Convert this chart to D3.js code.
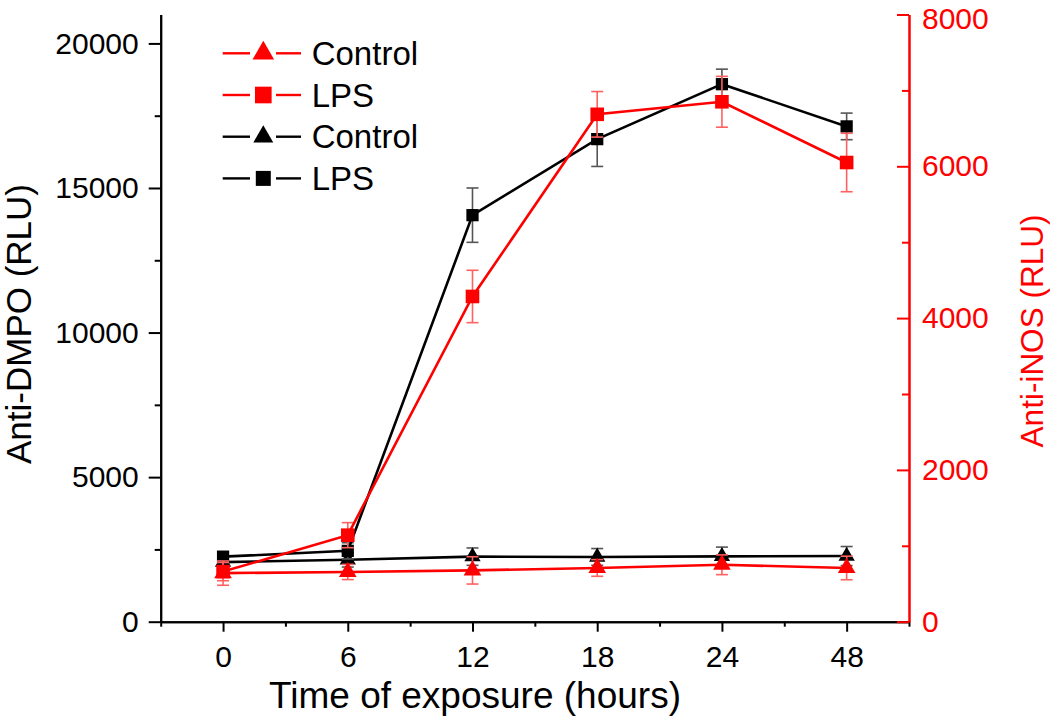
<!DOCTYPE html>
<html>
<head>
<meta charset="utf-8">
<script src="https://cdn.jsdelivr.net/npm/d3@7"></script>
<style>
  body { margin: 0; background: #fff; }
  text { font-family: "Liberation Sans", Arial, sans-serif; }
</style>
</head>
<body>
<div id="chart"></div>
<script>
const hours = ["0", "6", "12", "18", "24", "48"]

// Anti-DMPO (left axis, black)
const dmpoControl = [2060, 2140, 2250, 2240, 2260, 2270]
const dmpoControlErr = [250, 250, 300, 290, 320, 330]
const dmpoLPS = [2250, 2450, 14060, 16690, 18590, 17130]
const dmpoLPSErr = [160, 280, 940, 945, 520, 460]

// Anti-iNOS (right axis, red)
const inosControl = [640, 655, 676, 708, 750, 708]
const inosControlErr = [160, 100, 180, 110, 130, 155]
const inosLPS = [660, 1140, 4285, 6685, 6850, 6050]
const inosLPSErr = [120, 165, 345, 300, 335, 385]

const leftTicks = [0, 5000, 10000, 15000, 20000]
const leftMinor = [2500, 7500, 12500, 17500]
const rightTicks = [0, 2000, 4000, 6000, 8000]
const rightMinor = [1000, 3000, 5000, 7000]

const svgWidth = 1050
const svgHeight = 721
let margin = { top: 14.5, right: 141, bottom: 99.3, left: 160.7 }
let width = svgWidth - margin.left - margin.right
let height = svgHeight - margin.top - margin.bottom

let svg = d3.select("#chart").append("svg")
  .attr("width", svgWidth)
  .attr("height", svgHeight)
let chartGroup = svg.append("g")
  .attr("transform", `translate(${margin.left}, ${margin.top})`)

let x = d3.scaleLinear().domain([-0.5, hours.length - 0.5]).range([0, width])
let yLeft = d3.scaleLinear().domain([0, 21000]).range([height, 0])
let yRight = d3.scaleLinear().domain([0, 8000]).range([height, 0])

function styleAxis(g, color, size) {
  g.select(".domain").attr("stroke", color).attr("stroke-width", 2)
  g.selectAll(".tick line").attr("stroke", color).attr("stroke-width", 2)
  g.selectAll(".tick text").attr("fill", color).attr("font-size", size)
    .attr("font-family", "Liberation Sans, Arial, sans-serif")
}

// x axis
let xMinor = chartGroup.append("g")
  .attr("transform", `translate(0, ${height})`)
  .call(d3.axisBottom(x).tickValues(d3.range(-0.5, hours.length, 1)).tickSize(5).tickSizeOuter(0).tickFormat(""))
styleAxis(xMinor, "#000", 30)
let xAxis = chartGroup.append("g")
  .attr("transform", `translate(0, ${height})`)
  .call(d3.axisBottom(x).tickValues(d3.range(hours.length)).tickSize(10).tickSizeOuter(0).tickPadding(14).tickFormat(i => hours[i]))
styleAxis(xAxis, "#000", 30)

// left axis
let leftMinorAxis = chartGroup.append("g")
  .call(d3.axisLeft(yLeft).tickValues(leftMinor).tickSize(6).tickSizeOuter(0).tickFormat(""))
styleAxis(leftMinorAxis, "#000", 30)
let leftAxis = chartGroup.append("g")
  .call(d3.axisLeft(yLeft).tickValues(leftTicks).tickSize(12).tickSizeOuter(0).tickPadding(10).tickFormat(d3.format("d")))
styleAxis(leftAxis, "#000", 30)

// right axis (ticks point inward)
let rightMinorAxis = chartGroup.append("g")
  .attr("transform", `translate(${width}, 0)`)
  .call(d3.axisRight(yRight).tickValues(rightMinor).tickSize(-7).tickSizeOuter(0).tickFormat(""))
styleAxis(rightMinorAxis, "red", 30)
let rightAxis = chartGroup.append("g")
  .attr("transform", `translate(${width}, 0)`)
  .call(d3.axisRight(yRight).tickValues(rightTicks).tickSize(-12).tickSizeOuter(0).tickPadding(13).tickFormat(d3.format("d")))
styleAxis(rightAxis, "red", 30)
rightAxis.selectAll(".tick text").filter(d => d === 8000).attr("dy", "0.45em")

// axis titles
svg.append("text")
  .attr("x", 475).attr("y", 708)
  .attr("text-anchor", "middle")
  .attr("font-size", 37)
  .text("Time of exposure (hours)")
svg.append("text")
  .attr("transform", "translate(31, 324) rotate(-90)")
  .attr("text-anchor", "middle")
  .attr("font-size", 35)
  .text("Anti-DMPO (RLU)")
svg.append("text")
  .attr("transform", "translate(1043, 331) rotate(-90)")
  .attr("text-anchor", "middle")
  .attr("font-size", 31.5)
  .attr("fill", "red")
  .text("Anti-iNOS (RLU)")

let series = [
  { name: "Control", values: dmpoControl, err: dmpoControlErr, scale: yLeft, color: "#000", bar: "#555", shape: d3.symbolTriangle, size: 115 },
  { name: "LPS", values: dmpoLPS, err: dmpoLPSErr, scale: yLeft, color: "#000", bar: "#555", shape: d3.symbolSquare, size: 150 },
  { name: "Control", values: inosControl, err: inosControlErr, scale: yRight, color: "red", bar: "#ff6060", shape: d3.symbolTriangle, size: 135 },
  { name: "LPS", values: inosLPS, err: inosLPSErr, scale: yRight, color: "red", bar: "#ff6060", shape: d3.symbolSquare, size: 185 }
]

series.forEach(s => {
  let g = chartGroup.append("g")
  let idx = d3.range(s.values.length)
  let bars = g.selectAll(".err").data(idx).enter().append("g")
    .attr("stroke", s.bar).attr("stroke-width", 1.6).attr("fill", "none")
  bars.append("line")
    .attr("x1", i => x(i)).attr("x2", i => x(i))
    .attr("y1", i => s.scale(s.values[i] - s.err[i]))
    .attr("y2", i => s.scale(s.values[i] + s.err[i]))
  bars.append("line")
    .attr("x1", i => x(i) - 6).attr("x2", i => x(i) + 6)
    .attr("y1", i => s.scale(s.values[i] + s.err[i]))
    .attr("y2", i => s.scale(s.values[i] + s.err[i]))
  bars.append("line")
    .attr("x1", i => x(i) - 6).attr("x2", i => x(i) + 6)
    .attr("y1", i => s.scale(s.values[i] - s.err[i]))
    .attr("y2", i => s.scale(s.values[i] - s.err[i]))
  g.append("path")
    .datum(idx)
    .attr("fill", "none")
    .attr("stroke", s.color)
    .attr("stroke-width", 2.6)
    .attr("d", d3.line().x(i => x(i)).y(i => s.scale(s.values[i])))
  g.selectAll(".pt").data(idx).enter().append("path")
    .attr("transform", i => `translate(${x(i)}, ${s.scale(s.values[i])})`)
    .attr("fill", s.color)
    .attr("d", d3.symbol().type(s.shape).size(s.size))
})

// legend
let legendOrder = [series[2], series[3], series[0], series[1]]
let legend = svg.append("g")
legendOrder.forEach((s, k) => {
  let ly = 53.3 + k * 41.7
  let row = legend.append("g").attr("transform", `translate(0, ${ly})`)
  row.append("line").attr("x1", 222.7).attr("x2", 250).attr("y1", 0).attr("y2", 0)
    .attr("stroke", s.color).attr("stroke-width", 2.4)
  row.append("line").attr("x1", 276).attr("x2", 301).attr("y1", 0).attr("y2", 0)
    .attr("stroke", s.color).attr("stroke-width", 2.4)
  row.append("path")
    .attr("transform", "translate(263.3, 0)")
    .attr("fill", s.color)
    .attr("d", d3.symbol().type(s.shape).size(s.size * 1.5))
  row.append("text")
    .attr("x", 311.7).attr("y", 0).attr("dy", "0.35em")
    .attr("font-size", 33)
    .text(s.name)
})
</script>
</body>
</html>
